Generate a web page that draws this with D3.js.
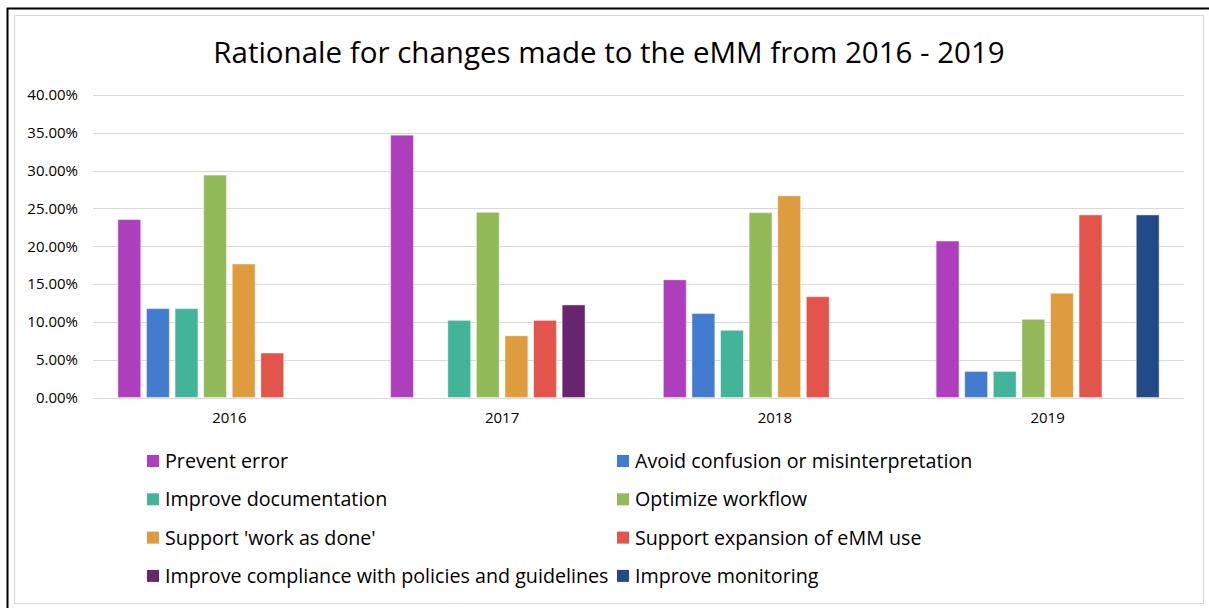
<!DOCTYPE html>
<html>
<head>
<meta charset="utf-8">
<script src="https://cdn.jsdelivr.net/npm/d3@7"></script>
<style>
  body { margin: 0; background: #fff; }
  text { font-family: "Open Sans", Lato, sans-serif; fill: #000; }
</style>
</head>
<body>
<div id="chart"></div>
<script>
// data (share of changes per year)
var years = ["2016", "2017", "2018", "2019"];
var series = ["Prevent error", "Avoid confusion or misinterpretation", "Improve documentation",
  "Optimize workflow", "Support 'work as done'", "Support expansion of eMM use",
  "Improve compliance with policies and guidelines", "Improve monitoring"];
var colors = ["#ad3fbd", "#437bcf", "#43b39a", "#93ba59", "#de9c3e", "#e3554a", "#66256e", "#214a87"];

// one array per year, in series order (0 = no bar)
var v2016 = [23.53, 11.76, 11.76, 29.41, 17.65, 5.88, 0, 0];
var v2017 = [34.69, 0, 10.20, 24.49, 8.16, 10.20, 12.24, 0];
var v2018 = [15.56, 11.11, 8.89, 24.44, 26.67, 13.33, 0, 0];
var v2019 = [20.69, 3.45, 3.45, 10.34, 13.79, 24.14, 0, 24.14];
var values = [v2016, v2017, v2018, v2019];

var yTicks = [0, 5, 10, 15, 20, 25, 30, 35, 40];

var width = 1209, height = 608;
var plot = {left: 93, right: 1184, top: 95, bottom: 397.5};

var svg = d3.select("#chart").append("svg")
  .attr("width", width)
  .attr("height", height);

// frames
svg.append("rect")
  .attr("x", 7.5).attr("y", 8.5)
  .attr("width", 1210).attr("height", 610)
  .attr("fill", "none").attr("stroke", "#000").attr("stroke-width", 2);
svg.append("rect")
  .attr("x", 14.5).attr("y", 15.5)
  .attr("width", 1189).attr("height", 588)
  .attr("fill", "#fff").attr("stroke", "#d9d9d9").attr("stroke-width", 1);

svg.append("text")
  .attr("x", 609).attr("y", 63)
  .attr("text-anchor", "middle")
  .attr("font-size", 29.5)
  .text("Rationale for changes made to the eMM from 2016 - 2019");

var x0 = d3.scaleBand().domain(years).range([plot.left, plot.right]);
var x1 = d3.scaleBand().domain(d3.range(series.length))
  .range([0, x0.bandwidth()])
  .paddingInner(0.2).paddingOuter(0.87);
var y = d3.scaleLinear().domain([0, 40]).range([plot.bottom, plot.top]);

// gridlines
svg.append("g").selectAll("line")
  .data(yTicks)
  .enter().append("line")
  .attr("x1", plot.left).attr("x2", plot.right)
  .attr("y1", function(d) { return Math.round(y(d)) + 0.5; })
  .attr("y2", function(d) { return Math.round(y(d)) + 0.5; })
  .attr("stroke", "#d9d9d9").attr("stroke-width", 1.2);

var yAxis = d3.axisLeft(y).tickValues(yTicks)
  .tickSize(0).tickPadding(15)
  .tickFormat(function(d) { return d.toFixed(2) + "%"; });
var gy = svg.append("g")
  .attr("transform", "translate(" + plot.left + ",0)")
  .call(yAxis);
gy.select(".domain").remove();
gy.selectAll("text").attr("font-size", 15).attr("font-family", "'Open Sans', sans-serif").attr("fill", "#333");

var xAxis = d3.axisBottom(x0).tickSize(0).tickPadding(15);
var gx = svg.append("g")
  .attr("transform", "translate(0," + plot.bottom + ")")
  .call(xAxis);
gx.select(".domain").remove();
gx.selectAll("text").attr("font-size", 15).attr("font-family", "'Open Sans', sans-serif").attr("fill", "#595959");

// bars
var groups = svg.append("g").selectAll("g")
  .data(values)
  .enter().append("g")
  .attr("transform", function(d, i) { return "translate(" + x0(years[i]) + ",0)"; });

groups.selectAll("rect")
  .data(function(d) { return d.map(function(v, j) { return {v: v, j: j}; }).filter(function(e) { return e.v > 0; }); })
  .enter().append("rect")
  .attr("x", function(d) { return x1(d.j); })
  .attr("width", x1.bandwidth())
  .attr("y", function(d) { return y(d.v); })
  .attr("height", function(d) { return plot.bottom - y(d.v); })
  .attr("fill", function(d) { return colors[d.j]; })
  .attr("stroke", "#fff").attr("stroke-opacity", 0.45).attr("stroke-width", 1);

// legend, two columns
var legendX = [147, 617];
var legendY0 = 461, legendStep = 38.3;
var legend = svg.append("g").selectAll("g")
  .data(series)
  .enter().append("g")
  .attr("transform", function(d, i) {
    return "translate(" + legendX[i % 2] + "," + (legendY0 + Math.floor(i / 2) * legendStep) + ")";
  });
legend.append("rect")
  .attr("x", 0).attr("y", -6).attr("width", 12).attr("height", 12)
  .attr("fill", function(d, i) { return colors[i]; });
legend.append("text")
  .attr("x", 18).attr("y", 0).attr("dy", "0.36em")
  .attr("font-size", 19.7)
  .text(function(d) { return d; });
</script>
</body>
</html>
